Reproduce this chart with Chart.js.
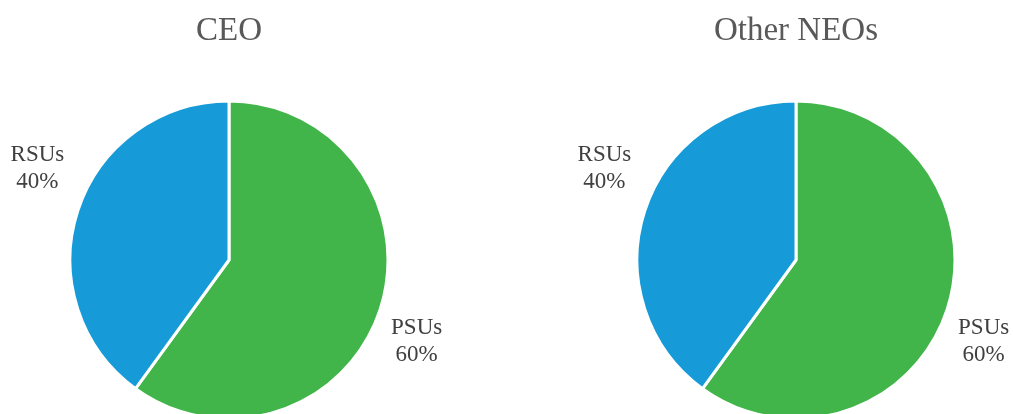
<!DOCTYPE html>
<html lang="en">
<head>
    <meta charset="UTF-8">
    <title>CEO / Other NEOs</title>
    <script src="https://cdn.jsdelivr.net/npm/chart.js@4.4.0/dist/chart.umd.min.js"></script>
    <style>
        html, body {
            margin: 0;
            padding: 0;
            background: #ffffff;
            width: 1013px;
            height: 414px;
            overflow: hidden;
        }

        .pie-box {
            position: absolute;
            top: 0;
            width: 458px;
            height: 440px;
        }

        #box-ceo { left: 0; }
        #box-neo { left: 567px; }
    </style>
</head>
<body>

    <div class="pie-box" id="box-ceo"><canvas id="chartCeo"></canvas></div>
    <div class="pie-box" id="box-neo"><canvas id="chartNeo"></canvas></div>

<script>

// data
var categories = ['PSUs', 'RSUs'];
var ceoValues = [60, 40];
var neoValues = [60, 40];
var chartTitles = ['CEO', 'Other NEOs'];

var colors = ['#41b54a', '#169bd8'];
var serif = "'Liberation Serif', 'Times New Roman', serif";

// label anchor offsets relative to pie centre, in units of radius
var labelOffsets = [
    { x: 1.18, y: 0.51 },
    { x: -1.205, y: -0.575 }
];

// draws "PSUs / 60%" style labels outside the slices
var outsideLabels = {
    id: 'outsideLabels',
    afterDatasetsDraw(chart) {
        var ctx = chart.ctx;
        var meta = chart.getDatasetMeta(0);
        var values = chart.data.datasets[0].data;
        var total = values.reduce((a, b) => a + b, 0);
        ctx.save();
        ctx.fillStyle = '#404040';
        ctx.font = '23px ' + serif;
        ctx.textAlign = 'center';
        ctx.textBaseline = 'middle';
        meta.data.forEach((arc, i) => {
            var r = arc.outerRadius;
            var cx = arc.x + labelOffsets[i].x * r;
            var cy = arc.y + labelOffsets[i].y * r;
            var pct = Math.round(values[i] / total * 100) + '%';
            ctx.fillText(chart.data.labels[i], cx, cy - 13.5);
            ctx.fillText(pct, cx, cy + 13.5);
        });
        ctx.restore();
    }
};

function makePie(canvasId, title, values) {
    var ctx = document.getElementById(canvasId).getContext('2d');
    return new Chart(ctx, {
        type: 'pie',
        data: {
            labels: categories,
            datasets: [{
                data: values,
                backgroundColor: colors,
                borderColor: '#ffffff',
                borderWidth: 3,
            }]
        },
        options: {
            responsive: true,
            maintainAspectRatio: false,
            animation: false,
            radius: 159,
            layout: {
                padding: { top: 0, bottom: 21, left: 0, right: 0 }
            },
            plugins: {
                legend: { display: false },
                tooltip: { enabled: false },
                title: {
                    display: true,
                    text: title,
                    color: '#595959',
                    font: { family: serif, size: 33, weight: 'normal', lineHeight: 1.2 },
                    padding: { top: 12, bottom: 49.4 }
                }
            }
        },
        plugins: [outsideLabels]
    });
}

makePie('chartCeo', chartTitles[0], ceoValues);
makePie('chartNeo', chartTitles[1], neoValues);

</script>

</body>
</html>
